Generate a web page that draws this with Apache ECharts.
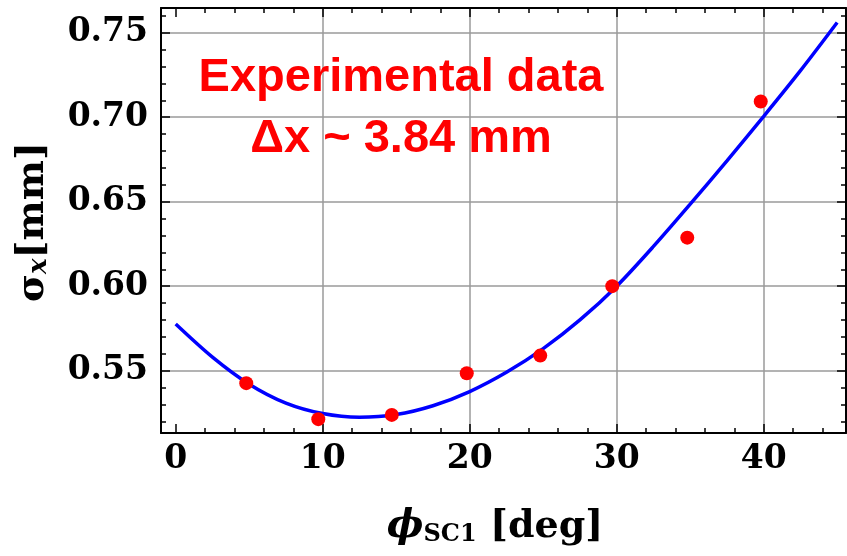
<!DOCTYPE html>
<html>
<head>
<meta charset="utf-8">
<script src="https://cdn.jsdelivr.net/npm/echarts@6/dist/echarts.min.js"></script>
<style>
html,body{margin:0;padding:0;background:#fff;}
#chart{width:847px;height:556px;}
</style>
</head>
<body>
<div id="chart"></div>
<script>
// Measured data points
var pointX = [4.8, 9.7, 14.7, 19.8, 24.8, 29.7, 34.8, 39.8];
var pointY = [0.5426, 0.5213, 0.5238, 0.5485, 0.5589, 0.6000, 0.6287, 0.7093];
// Fit curve
var fitX = [0, 2.5, 5, 7.5, 10, 12.5, 15, 17.5, 20, 22.5, 25, 27.5, 30, 32.5, 35, 37.5, 40, 42.5, 45];
var fitY = [0.5776, 0.5580, 0.5420, 0.5308, 0.5246, 0.5224, 0.5240, 0.5292, 0.5376, 0.5490, 0.5630, 0.5800, 0.6000, 0.6235, 0.6485, 0.6742, 0.7005, 0.7275, 0.7560];
// Axis ranges / labels
var xRange = [-1, 45.6];
var yRange = [0.5131, 0.7646];
var annotation = ['Experimental data', 'Δx ~ 3.84 mm'];

var scatterData = pointX.map(function (x, i) { return [x, pointY[i]]; });
var fitData = fitX.map(function (x, i) { return [x, fitY[i]]; });

var tickFont = { fontFamily: 'DejaVu Serif', fontWeight: 'bold', fontSize: 33, color: '#000' };
var CLEAR = 'rgba(0,0,0,0)';
var GRID = '#9a9a9a';

function xAx(pos, major) {
  return {
    type: 'value', position: pos, min: xRange[0], max: xRange[1],
    splitNumber: major ? 5 : 23,
    axisLine: { show: major, onZero: false, lineStyle: { color: '#000', width: 2 } },
    axisTick: { show: true, inside: true, length: major ? 9 : 5, lineStyle: { color: '#000', width: 1.5 } },
    axisLabel: (major && pos === 'bottom') ? Object.assign({
      show: true, margin: 10, showMinLabel: false, showMaxLabel: false,
      formatter: function (v) { return String(Math.round(v)); }
    }, tickFont) : { show: false },
    splitLine: (major && pos === 'bottom') ? {
      show: true, lineStyle: { color: [CLEAR, CLEAR, GRID, GRID, GRID, GRID, CLEAR], width: 1.5 }
    } : { show: false }
  };
}
function yAx(pos, major) {
  return {
    type: 'value', position: pos, min: yRange[0], max: yRange[1],
    splitNumber: major ? 5 : 25,
    axisLine: { show: major, onZero: false, lineStyle: { color: '#000', width: 2 } },
    axisTick: { show: true, inside: true, length: major ? 9 : 5, lineStyle: { color: '#000', width: 1.5 } },
    axisLabel: (major && pos === 'left') ? Object.assign({
      show: true, margin: 13, showMinLabel: false, showMaxLabel: false,
      formatter: function (v) { return v.toFixed(2); }
    }, tickFont) : { show: false },
    splitLine: (major && pos === 'left') ? {
      show: true, lineStyle: { color: GRID, width: 1.5 }
    } : { show: false }
  };
}

var chart = echarts.init(document.getElementById('chart'), null, { renderer: 'canvas' });
chart.setOption({
  backgroundColor: '#fff',
  animation: false,
  grid: { left: 161, right: 1, top: 8, bottom: 123, containLabel: false },
  xAxis: [xAx('bottom', true), xAx('bottom', false), xAx('top', true), xAx('top', false)],
  yAxis: [yAx('left', true), yAx('left', false), yAx('right', true), yAx('right', false)],
  series: [
    {
      type: 'line', data: fitData, smooth: 0.3, showSymbol: false, symbol: 'none',
      lineStyle: { color: '#0000ff', width: 3.5 }, z: 3
    },
    {
      type: 'scatter', data: scatterData, symbol: 'circle', symbolSize: 14,
      itemStyle: { color: '#ff0000', opacity: 1 }, z: 4
    }
  ],
  graphic: [
    {
      type: 'text', x: 401, y: 78, z: 10,
      style: { text: annotation[0], font: 'bold 47px "Liberation Sans", Arial, sans-serif', fill: '#ff0000', align: 'center', verticalAlign: 'middle' }
    },
    {
      type: 'text', x: 401, y: 139, z: 10,
      style: { text: annotation[1], font: 'bold 47px "Liberation Sans", Arial, sans-serif', fill: '#ff0000', align: 'center', verticalAlign: 'middle' }
    },
    {
      type: 'text', x: 495, y: 527, z: 10,
      style: {
        text: '{phi|ϕ}{sub|SC1}{b| [deg]}', align: 'center', verticalAlign: 'middle',
        rich: {
          phi: { fontFamily: 'DejaVu Serif', fontStyle: 'italic', fontWeight: 'bold', fontSize: 39, fill: '#000', color: '#000' },
          sub: { fontFamily: 'DejaVu Serif', fontWeight: 'bold', fontSize: 24, fill: '#000', color: '#000', verticalAlign: 'bottom', padding: [14, 0, 0, 0] },
          b: { fontFamily: 'DejaVu Serif', fontWeight: 'bold', fontSize: 38, fill: '#000', color: '#000' }
        }
      }
    },
    {
      type: 'text', x: 33, y: 222, rotation: Math.PI / 2, z: 10,
      style: {
        text: '{s|σ}{sub|x}{b|[mm]}', align: 'center', verticalAlign: 'middle',
        rich: {
          s: { fontFamily: 'DejaVu Serif', fontWeight: 'bold', fontSize: 38, fill: '#000', color: '#000' },
          sub: { fontFamily: 'DejaVu Serif', fontStyle: 'italic', fontWeight: 'bold', fontSize: 26, fill: '#000', color: '#000', verticalAlign: 'bottom', padding: [12, 0, 0, 0] },
          b: { fontFamily: 'DejaVu Serif', fontWeight: 'bold', fontSize: 38, fill: '#000', color: '#000' }
        }
      }
    }
  ]
});
</script>
</body>
</html>
